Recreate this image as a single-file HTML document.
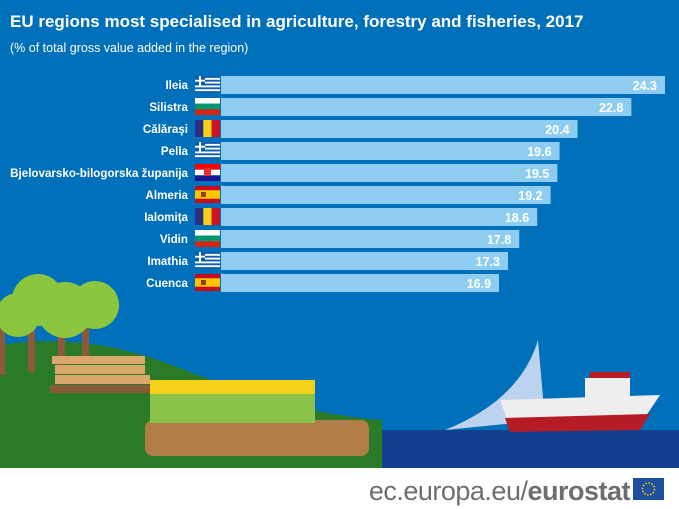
<!DOCTYPE html>
<html><head><meta charset="utf-8"><style>
body{margin:0}
#c{position:relative;width:679px;height:509px;overflow:hidden;background:#0070bb;font-family:"Liberation Sans",sans-serif}
</style></head><body>
<div id="c">
<svg width="679" height="509" style="position:absolute;left:0;top:0" id="svg">
<text x="10" y="27" fill="#fff" font-size="17" font-weight="bold">EU regions most specialised in agriculture, forestry and fisheries, 2017</text>
<text x="10" y="52" fill="#fff" font-size="12.5">(% of total gross value added in the region)</text>
<g>
<rect x="380" y="430" width="299" height="40" fill="#143f8f"/>
<path d="M0 345 Q90 330 190 372 Q300 415 382 420 L382 470 L0 470Z" fill="#2a7a28"/>
<rect x="145" y="420" width="224" height="36" rx="8" fill="#b07c48"/>
<g>
<rect x="150" y="388" width="165" height="35" fill="#8bc34a"/>
<rect x="150" y="380" width="165" height="14" fill="#f4d21a"/>
</g>
<g>
<rect x="0" y="320" width="5" height="55" fill="#8b5a3a"/><rect x="28" y="320" width="7" height="52" fill="#8b5a3a"/><rect x="58" y="320" width="7" height="52" fill="#8b5a3a"/><rect x="82" y="320" width="7" height="40" fill="#8b5a3a"/>
<circle cx="18" cy="315" r="22" fill="#8cc63f"/><circle cx="38" cy="300" r="26" fill="#8cc63f"/><circle cx="65" cy="310" r="28" fill="#8cc63f"/><circle cx="95" cy="305" r="24" fill="#8cc63f"/>
</g>
<rect x="50" y="385" width="100" height="8" fill="#8b5a3a"/><rect x="55" y="375" width="95" height="9" fill="#d9a86a"/><rect x="55" y="365" width="90" height="9" fill="#d9a86a"/><rect x="52" y="356" width="93" height="8" fill="#d9a86a"/>
<path d="M445 430 Q520 400 538 340 L545 420Z" fill="#bcd3ef"/>
<path d="M500 400 L660 395 L640 425 L510 428Z" fill="#eeeeee"/>
<path d="M505 418 L650 414 L640 430 L510 432Z" fill="#b51c25"/>
<rect x="585" y="378" width="45" height="20" fill="#eee"/><rect x="590" y="372" width="40" height="6" fill="#b51c25"/>
<rect x="0" y="468" width="679" height="41" fill="#fff"/>
</g>
<text x="630" y="500" text-anchor="end" fill="#6d6e70" font-size="27" letter-spacing="-0.5">ec.europa.eu/<tspan font-weight="bold">eurostat</tspan></text>
<rect x="633" y="478" width="31" height="22" fill="#1f4fa0"/>
<circle cx="648.5" cy="489" r="6" fill="none" stroke="#ffd400" stroke-width="1.5" stroke-dasharray="1.5 1.6"/>
</svg>
<script>
const regions=["Ileia","Silistra","Călăraşi","Pella","Bjelovarsko-bilogorska županija","Almeria","Ialomiţa","Vidin","Imathia","Cuenca"];
const values=[24.3,22.8,20.4,19.6,19.5,19.2,18.6,17.8,17.3,16.9];
const flags=["gr","bg","ro","gr","hr","es","ro","bg","gr","es"];
const svg=document.getElementById('svg');const NS="http://www.w3.org/2000/svg";
const x0=120,scale=(665-120)/24.3,barStart=221;
const xs=v=>x0+v*scale;const ys=i=>76+i*22;
function mk(t,a,p){const e=document.createElementNS(NS,t);for(const k in a)e.setAttribute(k,a[k]);(p||svg).appendChild(e);return e;}
function flag(g,c,x,y){const w=25,h=17;
if(c==="gr"){mk('rect',{x,y,width:w,height:h,fill:'#0d5eaf'},g);for(let k=1;k<9;k+=2)mk('rect',{x,y:y+k*h/9,width:w,height:h/9,fill:'#fff'},g);mk('rect',{x,y,width:10,height:h*5/9,fill:'#0d5eaf'},g);mk('rect',{x:x+4,y,width:2,height:h*5/9,fill:'#fff'},g);mk('rect',{x,y:y+h*2/9,width:10,height:h/9,fill:'#fff'},g);}
else if(c==="bg"){mk('rect',{x,y,width:w,height:h/3,fill:'#fff'},g);mk('rect',{x,y:y+h/3,width:w,height:h/3,fill:'#00966e'},g);mk('rect',{x,y:y+2*h/3,width:w,height:h/3,fill:'#d62612'},g);}
else if(c==="ro"){mk('rect',{x,y,width:w/3,height:h,fill:'#2b2d7f'},g);mk('rect',{x:x+w/3,y,width:w/3,height:h,fill:'#fcd116'},g);mk('rect',{x:x+2*w/3,y,width:w/3,height:h,fill:'#ce1126'},g);}
else if(c==="hr"){mk('rect',{x,y,width:w,height:h/3,fill:'#ff0000'},g);mk('rect',{x,y:y+h/3,width:w,height:h/3,fill:'#fff'},g);mk('rect',{x,y:y+2*h/3,width:w,height:h/3,fill:'#171796'},g);mk('rect',{x:x+9,y:y+4,width:7,height:8,fill:'#e03030'},g);}
else{mk('rect',{x,y,width:w,height:h,fill:'#c60b1e'},g);mk('rect',{x,y:y+h/4,width:w,height:h/2,fill:'#ffc400'},g);mk('rect',{x:x+6,y:y+6,width:5,height:5,fill:'#8b4513'},g);}}
regions.forEach((r,i)=>{
const g=mk('g',{});


const y=ys(i);
const lb=mk('text',{x:188,y:y+13,'text-anchor':'end',fill:'#fff','font-size':'11.6','font-weight':'bold'},g);lb.textContent=r;


const fg=mk('g',{},g);


flag(fg,flags[i],195,y);
const b=mk('rect',{x:barStart,y:y,width:xs(values[i])-barStart,height:18,fill:'#8ecdf0'},g);


const t=mk('text',{x:xs(values[i])-8,y:y+14,'text-anchor':'end',fill:'#fff','font-size':'12.5','font-weight':'bold'},g);t.textContent=values[i].toFixed(1);


});
</script>
</div>
</body></html>
